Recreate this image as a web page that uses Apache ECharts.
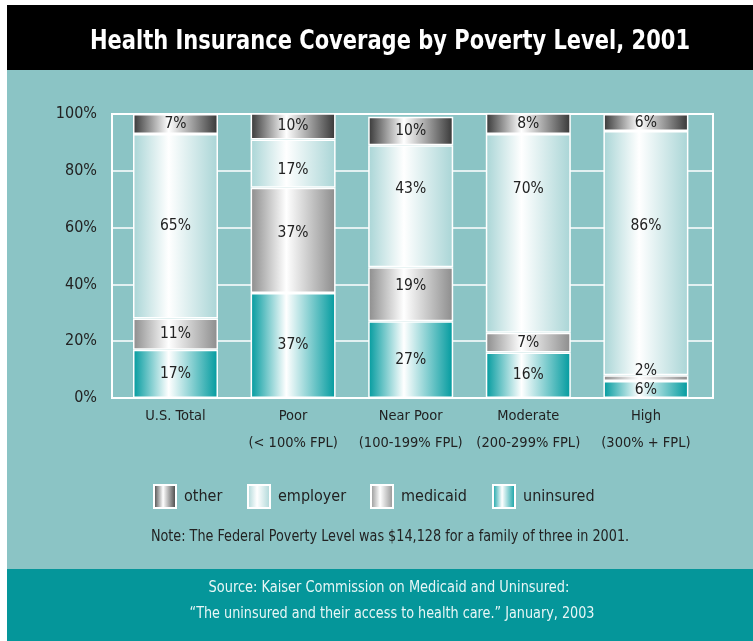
<!DOCTYPE html>
<html>
<head>
<meta charset="utf-8">
<script src="https://cdn.jsdelivr.net/npm/echarts@6/dist/echarts.min.js"></script>
<style>
html,body{margin:0;padding:0;background:#fff;}
#c{width:753px;height:641px;}
</style>
</head>
<body>
<div id="c"></div>
<script>
// ---- data ----
var categories = ['U.S. Total', 'Poor', 'Near Poor', 'Moderate', 'High'];
var subLabels = ['', '(< 100% FPL)', '(100-199% FPL)', '(200-299% FPL)', '(300% + FPL)'];
var uninsured = [17, 37, 27, 16, 6];
var medicaid = [11, 37, 19, 7, 2];
var employer = [65, 17, 43, 70, 86];
var other = [7, 10, 10, 8, 6];
var yTicks = [0, 20, 40, 60, 80, 100];

// ---- style ----
var FONT = "'Liberation Sans Narrow','DejaVu Sans Condensed','Arial Narrow',sans-serif";
var TXT = '#222';
// per-segment vertical label nudges (px) to match reference label placement
var labelNudge = {
  medicaid: [0, -7, -8, 0, -7],
  employer: [0, 6, -17, -44, -27]
};
function grad(c) {
  return {
    type: 'linear', x: 0, y: 0, x2: 1, y2: 0,
    colorStops: [
      {offset: 0, color: c},
      {offset: 0.42, color: '#ffffff'},
      {offset: 1, color: c}
    ]
  };
}
var seriesDefs = [
  {name: 'uninsured', data: uninsured, color: '#009a9e'},
  {name: 'medicaid', data: medicaid, color: '#8c8c8c'},
  {name: 'employer', data: employer, color: '#a9d5d6'},
  {name: 'other', data: other, color: '#363636'}
];
var series = seriesDefs.map(function (s) {
  var nud = labelNudge[s.name];
  return {
    name: s.name, type: 'bar', stack: 'all',
    xAxisIndex: 1, yAxisIndex: 1,
    barWidth: 85,
    itemStyle: {color: grad(s.color), borderColor: '#ffffff', borderWidth: 1.5},
    label: {
      show: true, position: 'inside', formatter: '{c}%',
      color: TXT, fontSize: 15.5, fontFamily: FONT
    },
    data: s.data.map(function (v, i) {
      var o = {value: v};
      if (nud && nud[i]) o.label = {offset: [0, nud[i]]};
      return o;
    })
  };
});

var legendLefts = [153, 247, 370, 492];
var legendOrder = ['other', 'employer', 'medicaid', 'uninsured'];
var legends = legendOrder.map(function (n, i) {
  return {
    data: [n], left: legendLefts[i], top: 484, padding: 0,
    itemWidth: 22, itemHeight: 23, icon: 'rect',
    selectedMode: false,
    textStyle: {color: TXT, fontSize: 16, fontFamily: FONT, padding: [0, 0, 0, 3]}
  };
});

function txt(s, x, y, font, fill, sx) {
  return {type: 'text', z: 100, x: x, y: y, scaleX: sx, originX: 0, originY: 0,
    style: {text: s, fill: fill, font: font + ' ' + FONT, textAlign: 'center', textVerticalAlign: 'middle'}};
}

var chart = echarts.init(document.getElementById('c'));
chart.setOption({
  backgroundColor: '#ffffff',
  animation: false,
  graphic: [
    {type: 'rect', z: -10, shape: {x: 7, y: 70, width: 746, height: 499}, style: {fill: '#8bc4c5'}},
    {type: 'rect', z: -10, shape: {x: 7, y: 5, width: 746, height: 65}, style: {fill: '#000000'}},
    {type: 'rect', z: -10, shape: {x: 7, y: 569, width: 746, height: 72}, style: {fill: '#05969a'}},
    txt('Health Insurance Coverage by Poverty Level, 2001', 390, 42, 'bold 27px', '#fff', 0.865),
    txt('Note: The Federal Poverty Level was $14,128 for a family of three in 2001.', 390, 537, '16px', TXT, 0.89),
    txt('Source: Kaiser Commission on Medicaid and Uninsured:', 389, 588, '16px', '#e8f6f6', 0.9),
    txt('\u201CThe uninsured and their access to health care.\u201D January, 2003', 392, 614, '16px', '#e8f6f6', 0.89)
  ],
  legend: legends,
  grid: [
    {left: 112, right: 40, top: 114, bottom: 243, show: true, borderColor: '#ffffff', borderWidth: 2, backgroundColor: 'transparent'},
    {left: 116.7, right: 48.3, top: 114, bottom: 243}
  ],
  xAxis: [
    {type: 'category', gridIndex: 0, data: categories, show: false},
    {
      type: 'category', gridIndex: 1,
      data: categories.map(function (c, i) { return subLabels[i] ? c + '\n' + subLabels[i] : c; }),
      axisLine: {show: false}, axisTick: {show: false},
      axisLabel: {color: TXT, fontSize: 14.5, fontFamily: FONT, lineHeight: 27, margin: 5, interval: 0}
    }
  ],
  yAxis: [
    {
      type: 'value', gridIndex: 0, min: yTicks[0], max: yTicks[yTicks.length - 1], interval: 20,
      axisLine: {show: false}, axisTick: {show: false},
      axisLabel: {formatter: '{value}%', color: TXT, fontSize: 16, fontFamily: FONT, margin: 15},
      splitLine: {show: true, lineStyle: {color: '#ffffff', width: 1.5}}
    },
    {type: 'value', gridIndex: 1, min: 0, max: 100, show: false, splitLine: {show: false}}
  ],
  series: series
});
</script>
</body>
</html>
